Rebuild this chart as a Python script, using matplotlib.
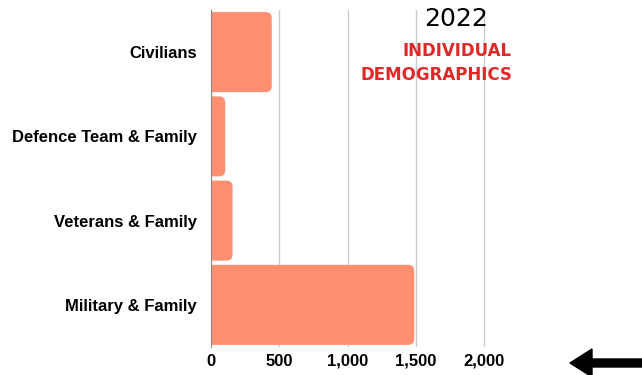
import matplotlib
matplotlib.use("Agg")
import matplotlib.pyplot as plt
from matplotlib.patches import FancyBboxPatch, FancyArrow
from matplotlib.transforms import IdentityTransform

categories = ["Civilians", "Defence Team & Family", "Veterans & Family", "Military & Family"]
values = [445, 104, 158, 1489]
xticks = [0, 500, 1000, 1500, 2000]
xtick_labels = ["0", "500", "1,000", "1,500", "2,000"]

BAR = "#FF8F70"
RED = "#E02828"

XMAX = 2250
fig = plt.figure(figsize=(6.42, 3.75), dpi=100)
right_px = 211 + XMAX * (484 - 211) / 2000
TOP, BOT = 10, 347
ax = fig.add_axes([211/642, 1-BOT/375, (right_px-211)/642, (BOT-TOP)/375])

n = len(categories)
ypos = list(range(n))[::-1]
bars = ax.barh(ypos, values, height=0.95, color=BAR)
ax.set_xlim(0, XMAX)
ax.set_ylim(-0.5, n - 0.5)

# convert bars to rounded boxes
fig.canvas.draw()
px_x = ax.transData.transform((1, 0))[0] - ax.transData.transform((0, 0))[0]
px_y = ax.transData.transform((0, 1))[1] - ax.transData.transform((0, 0))[1]
aspect = px_x / px_y
for b in bars:
    x, y, w, h = b.get_x(), b.get_y(), b.get_width(), b.get_height()
    b.set_visible(False)
    r = 6 / px_x
    p = FancyBboxPatch((x - 60, y), w + 60, h,
                       boxstyle=f"round,pad=0,rounding_size={r}",
                       mutation_aspect=aspect,
                       facecolor=BAR, edgecolor="none", zorder=2)
    ax.add_patch(p)

ax.set_yticks(ypos)
ax.set_yticklabels(categories, fontsize=12, fontweight="bold", family="Liberation Sans")
ax.set_xticks(xticks)
ax.set_xticklabels(xtick_labels, fontsize=12, fontweight="bold", family="Liberation Sans")
ax.tick_params(length=0, pad=10, axis="y")
ax.tick_params(length=0, pad=5, axis="x")
ax.grid(axis="x", color="#cccccc", lw=1, zorder=0)
ax.set_axisbelow(True)
for s in ["top", "right", "bottom"]:
    ax.spines[s].set_visible(False)
ax.spines["left"].set_color("#888888")
ax.spines["left"].set_zorder(3)

fig.text(456/642, 1-19/375, "2022", fontsize=18, ha="center", va="center",
         family="DejaVu Sans", color="black")
fig.text(512/642, 1-51/375, "INDIVIDUAL", fontsize=12, fontweight="bold", ha="right",
         va="center", family="DejaVu Sans", color=RED)
fig.text(512/642, 1-75/375, "DEMOGRAPHICS", fontsize=12, fontweight="bold", ha="right",
         va="center", family="DejaVu Sans", color=RED)

arrow = FancyArrow(650, 375 - 363, -80, 0, width=8, head_width=28, head_length=22,
                   length_includes_head=True, transform=IdentityTransform(),
                   color="black")
fig.add_artist(arrow)

fig.savefig("out.png", dpi=100)
